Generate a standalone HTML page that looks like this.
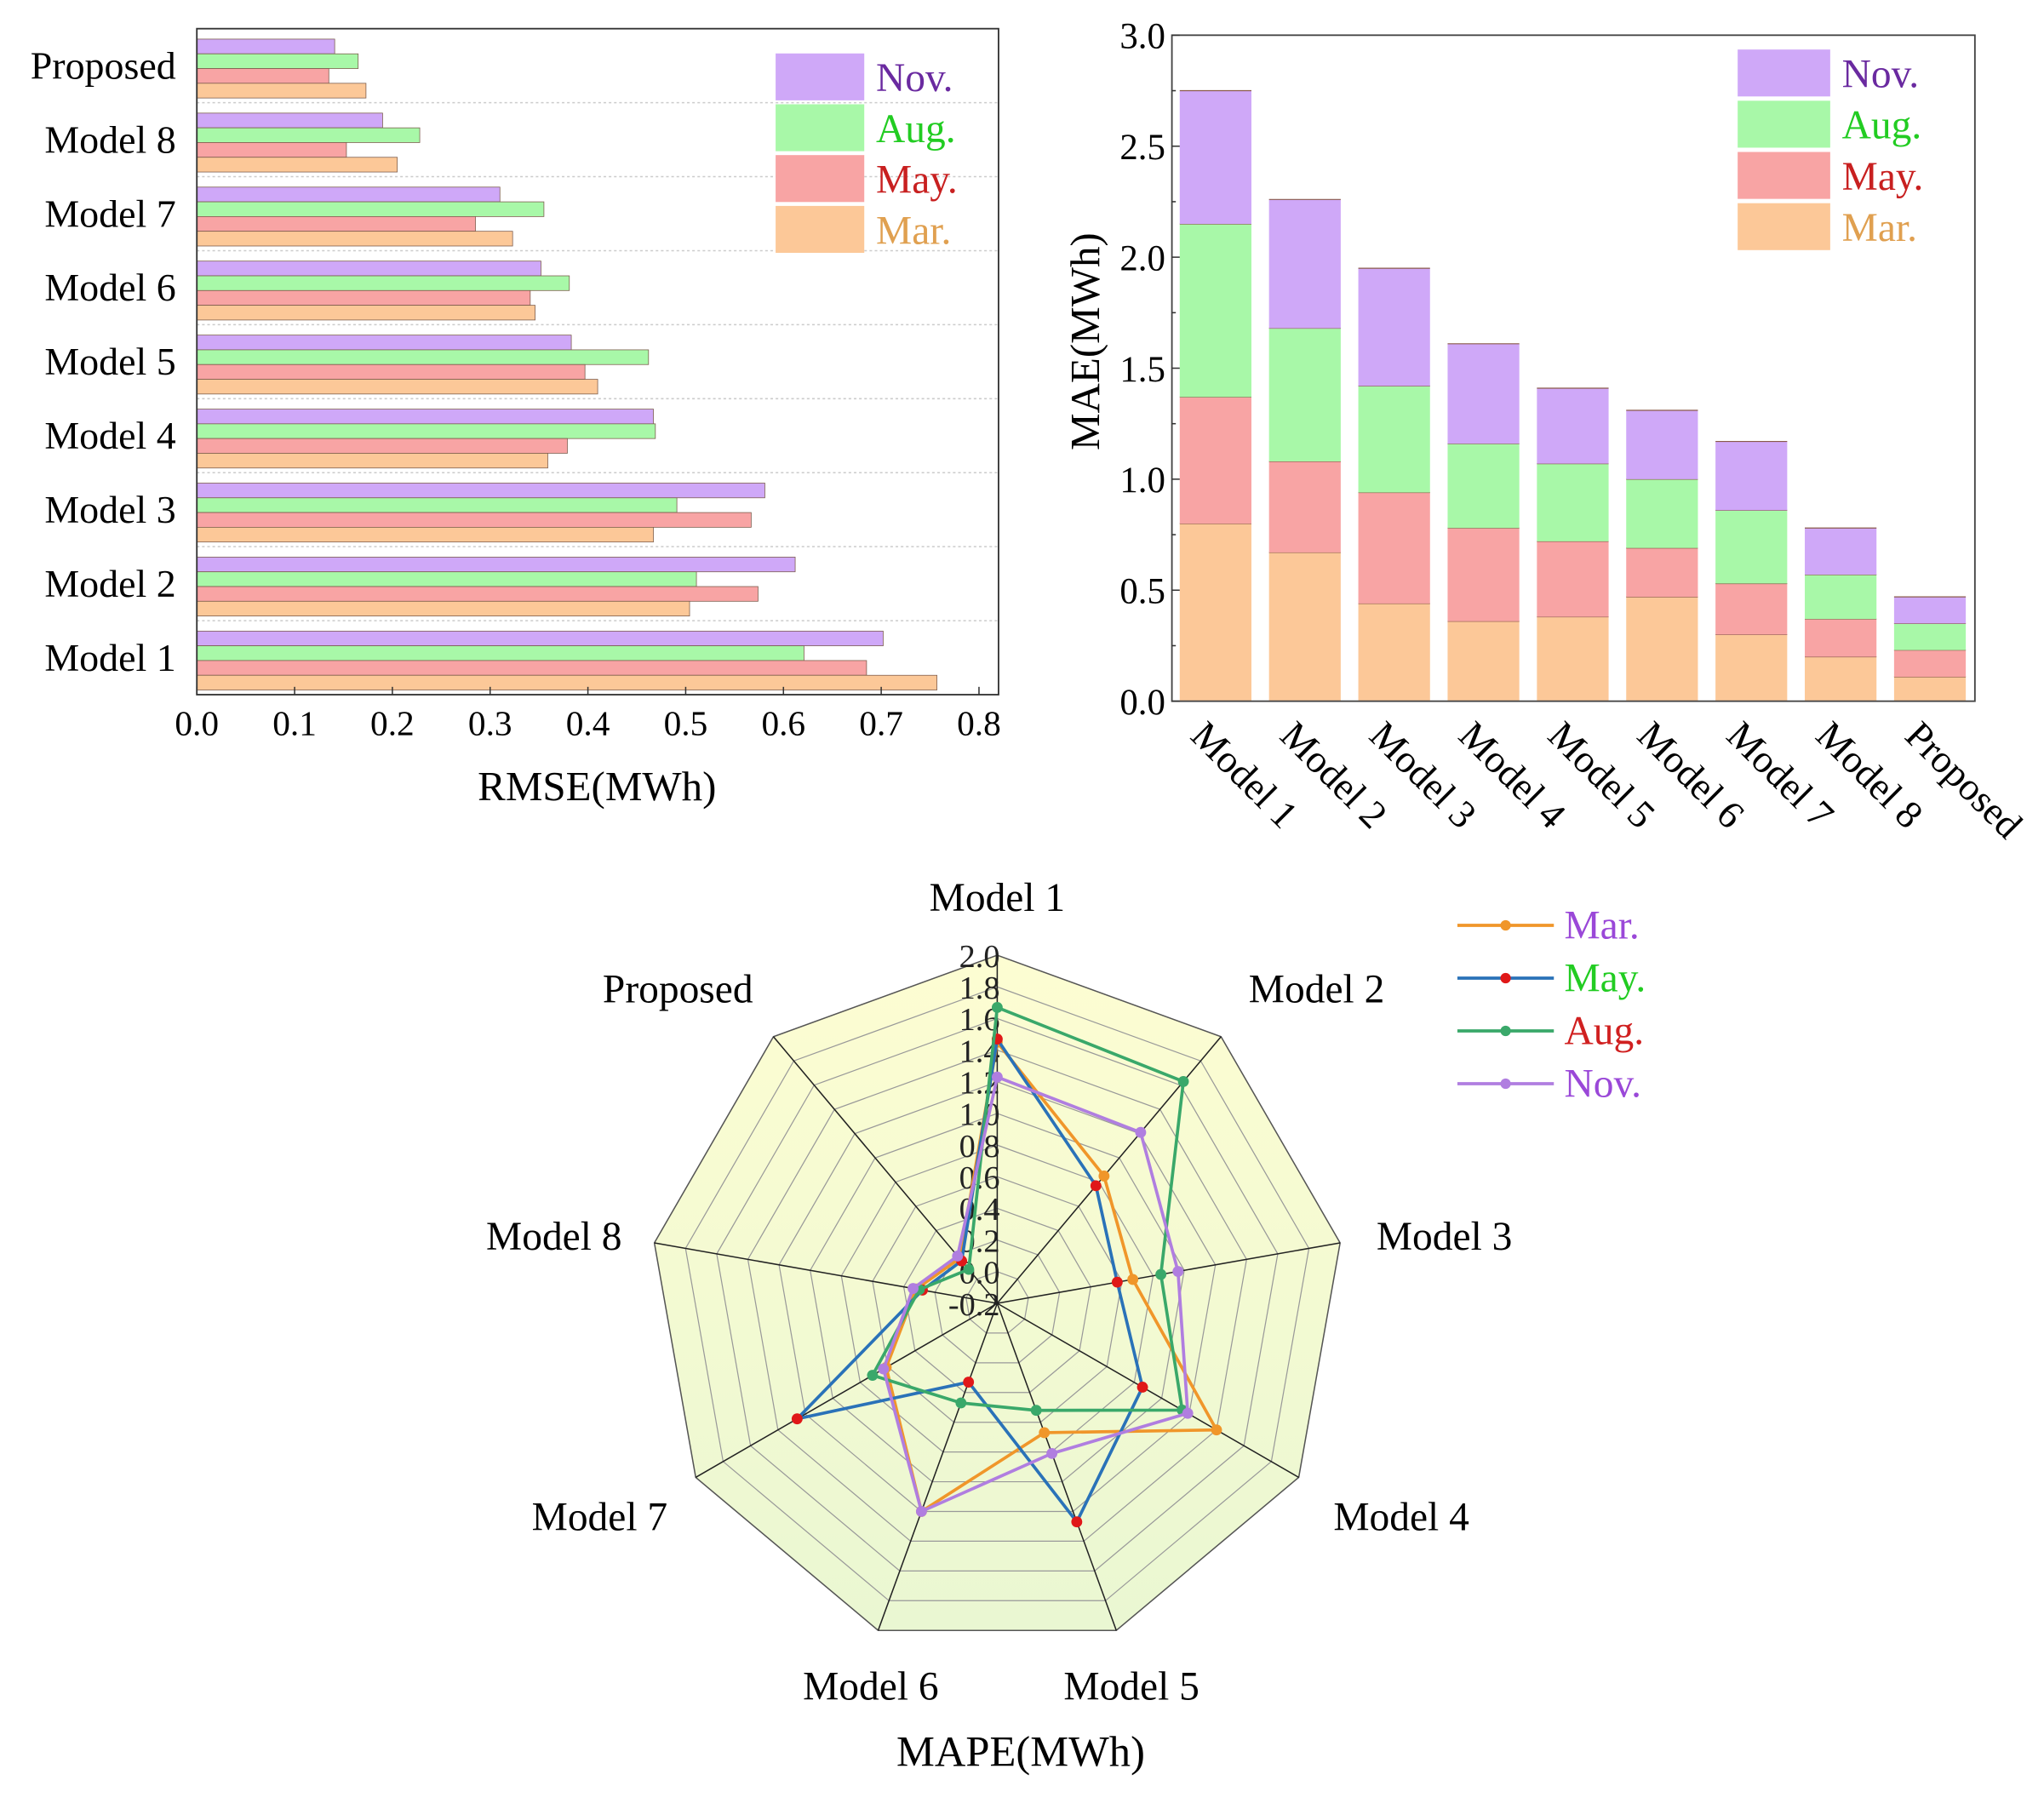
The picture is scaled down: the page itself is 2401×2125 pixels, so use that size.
<!DOCTYPE html>
<html><head><meta charset="utf-8"><style>html,body{margin:0;padding:0;background:#fff}svg{display:block}text{font-family:"Liberation Serif",serif}</style></head>
<body>
<svg id="fig" width="2401" height="2125" viewBox="0 0 1568 1388" preserveAspectRatio="none" xmlns="http://www.w3.org/2000/svg">
<rect width="1568" height="1388" fill="#fff"/>
<g id="rmse"></g>
<g id="mae"></g>
<g id="radar"></g>
</svg>
<script>
const NS='http://www.w3.org/2000/svg';
const rmseCats=['Proposed','Model 8','Model 7','Model 6','Model 5','Model 4','Model 3','Model 2','Model 1'];
const rmseNov=[0.141,0.19,0.31,0.352,0.383,0.467,0.581,0.612,0.702];
const rmseAug=[0.165,0.228,0.355,0.381,0.462,0.469,0.491,0.511,0.621];
const rmseMay=[0.135,0.153,0.285,0.341,0.397,0.379,0.567,0.574,0.685];
const rmseMar=[0.173,0.205,0.323,0.346,0.41,0.359,0.467,0.504,0.757];
const rmseTicks=['0.0','0.1','0.2','0.3','0.4','0.5','0.6','0.7','0.8'];
const maeCats=['Model 1','Model 2','Model 3','Model 4','Model 5','Model 6','Model 7','Model 8','Proposed'];
const maeMar=[0.80,0.67,0.44,0.36,0.38,0.47,0.30,0.20,0.11];
const maeMay=[0.57,0.41,0.50,0.42,0.34,0.22,0.23,0.17,0.12];
const maeAug=[0.78,0.60,0.48,0.38,0.35,0.31,0.33,0.20,0.12];
const maeNov=[0.60,0.58,0.53,0.45,0.34,0.31,0.31,0.21,0.12];
const maeTicks=['0.0','0.5','1.0','1.5','2.0','2.5','3.0'];
const radarCats=['Model 1','Model 2','Model 3','Model 4','Model 5','Model 6','Model 7','Model 8','Proposed'];
const mapeMar=[1.45,0.85,0.67,1.40,0.67,1.20,0.61,0.32,0.17];
const mapeMay=[1.47,0.77,0.57,0.86,1.27,0.33,1.26,0.28,0.15];
const mapeAug=[1.67,1.63,0.85,1.15,0.52,0.47,0.71,0.30,0.08];
const mapeNov=[1.23,1.21,0.96,1.19,0.81,1.20,0.63,0.34,0.19];
const radarTicks=['-0.2','0.0','0.2','0.4','0.6','0.8','1.0','1.2','1.4','1.6','1.8','2.0'];

function mk(p,tag,a,txt){const e=document.createElementNS(NS,tag);for(const k in a)e.setAttribute(k,a[k]);if(txt!=null)e.textContent=txt;p.appendChild(e);return e;}
const C={nov:'#cfa8f8',aug:'#a8f8a8',may:'#f8a4a4',mar:'#fcc898'};
const TC={nov:'#6a2aa0',aug:'#22cc22',may:'#c82020',mar:'#e0a050'};

// ---------- RMSE ----------
(function(){
const g=document.getElementById('rmse');
const L=151,R=766,T=22,B=533;
const x=v=>L+v*750;
const band=(B-T)/rmseCats.length;
rmseCats.forEach((c,i)=>{
  const y0=T+i*band;
  if(i>0){const ln=mk(g,'line',{x1:L,x2:R,y1:y0,y2:y0,stroke:'#ccc','stroke-dasharray':'2,2','stroke-width':1});}
  const series=[['nov',rmseNov],['aug',rmseAug],['may',rmseMay],['mar',rmseMar]];
  series.forEach((s,j)=>{
    const r=mk(g,'rect',{x:L,y:y0+8+j*11.3,width:x(s[1][i])-L,height:11.3,fill:C[s[0]],stroke:'#7a5a4a','stroke-width':0.5});
    
    
  });
  const t=mk(g,'text',{x:135,y:y0+band/2+10,'text-anchor':'end','font-size':30},c);
  
});
mk(g,'rect',{x:L,y:T,width:R-L,height:B-T,fill:'none',stroke:'#333','stroke-width':1.2,});
rmseTicks.forEach((t,i)=>{const v=i*0.1;mk(g,'line',{x1:x(v),x2:x(v),y1:B,y2:B-6,stroke:'#333'});
  const e=mk(g,'text',{x:x(v),y:564,'text-anchor':'middle','font-size':27},t);});
mk(g,'text',{x:458,y:614,'text-anchor':'middle','font-size':32,},'RMSE(MWh)');
[['nov','Nov.'],['aug','Aug.'],['may','May.'],['mar','Mar.']].forEach((s,j)=>{
  const y=41+j*39;
  mk(g,'rect',{x:595,y:y,width:68,height:36,fill:C[s[0]],});
  mk(g,'text',{x:672,y:y+29,'font-size':31,fill:TC[s[0]],},s[1]);
});
})();

// ---------- MAE ----------
(function(){
const g=document.getElementById('mae');
const L=899,R=1515,T=27,B=538;
const y=v=>B-v*(B-T)/3;
maeCats.forEach((c,i)=>{
  const x0=905+i*68.5;
  let acc=0;
  [['mar',maeMar],['may',maeMay],['aug',maeAug],['nov',maeNov]].forEach(s=>{
    const v=s[1][i];
    const r=mk(g,'rect',{x:x0,y:y(acc+v),width:55,height:y(acc)-y(acc+v),fill:C[s[0]]});
    
    
    mk(g,'line',{x1:x0,x2:x0+55,y1:y(acc+v),y2:y(acc+v),stroke:'#8a5a4a','stroke-width':0.8});
    acc+=v;
  });
  const cx=x0+27;
  const t=mk(g,'text',{x:cx-20,y:566,'font-size':30,transform:'rotate(45 '+(cx-20)+' 566)'},c);
  
});
mk(g,'rect',{x:L,y:T,width:R-L,height:B-T,fill:'none',stroke:'#444','stroke-width':1.2,});
maeTicks.forEach((t,i)=>{const v=i*0.5;mk(g,'line',{x1:L,x2:L+6,y1:y(v),y2:y(v),stroke:'#333'});
  if(i<6)mk(g,'line',{x1:L,x2:L+3,y1:y(v+0.25),y2:y(v+0.25),stroke:'#333'});
  const e=mk(g,'text',{x:894,y:y(v)+10,'text-anchor':'end','font-size':28},t);});
mk(g,'text',{x:843,y:262,'text-anchor':'middle','font-size':32,transform:'rotate(-90 843 262)',},'MAE(MWh)');
[['nov','Nov.'],['aug','Aug.'],['may','May.'],['mar','Mar.']].forEach((s,j)=>{
  const yy=38+j*39.3;
  mk(g,'rect',{x:1333,y:yy,width:71,height:36,fill:C[s[0]],});
  mk(g,'text',{x:1413,y:yy+29,'font-size':31,fill:TC[s[0]],},s[1]);
});
})();

// ---------- Radar ----------
(function(){
const g=document.getElementById('radar');
const cx=765,cy=1000,K=121.4,n=radarCats.length;
const pt=(v,i)=>{const a=i*2*Math.PI/n,r=(v+0.2)*K;return [cx+r*Math.sin(a),cy-r*Math.cos(a)];};
const defs=mk(g,'defs',{});
const gr=mk(defs,'linearGradient',{id:'rg',x1:0,y1:0,x2:0,y2:1});
mk(gr,'stop',{offset:'0','stop-color':'#fdfdd2'});mk(gr,'stop',{offset:'1','stop-color':'#eaf7d2'});
const ring=v=>radarCats.map((c,i)=>pt(v,i).join(',')).join(' ');
mk(g,'polygon',{points:ring(2.0),fill:'url(#rg)',stroke:'#555','stroke-width':1,});
for(let k=1;k<11;k++){mk(g,'polygon',{points:ring(-0.2+k*0.2),fill:'none',stroke:'#999','stroke-width':0.8});}
radarCats.forEach((c,i)=>{const p=pt(2.0,i);mk(g,'line',{x1:cx,y1:cy,x2:p[0],y2:p[1],stroke:'#222','stroke-width':1});});
radarTicks.forEach((t,k)=>{const e=mk(g,'text',{x:767,y:cy-k*0.2*K+9,'text-anchor':'end','font-size':25,fill:'#222'},t);});
const lblPos=[[765,699],[1010,769],[1108,959],[1075,1174],[868,1304],[668,1304],[460,1174],[425,959],[520,769]];
radarCats.forEach((c,i)=>{const e=mk(g,'text',{x:lblPos[i][0],y:lblPos[i][1],'text-anchor':'middle','font-size':31},c);});
const series=[['mar',mapeMar,'#f0962a','#f0962a'],['may',mapeMay,'#2a72b8','#e01818'],['aug',mapeAug,'#3aa86a','#3aa86a'],['nov',mapeNov,'#b07ee0','#b07ee0']];
series.forEach(s=>{
  const pts=s[1].map((v,i)=>pt(v,i));
  const pl=mk(g,'polygon',{points:pts.map(p=>p.join(',')).join(' '),fill:'none',stroke:s[2],'stroke-width':2.4});
  
  pts.forEach(p=>{const d=mk(g,'circle',{cx:p[0],cy:p[1],r:4.2,fill:s[3]});});
});
mk(g,'text',{x:783,y:1355,'text-anchor':'middle','font-size':33,},'MAPE(MWh)');
const leg=[['Mar.','#f0962a','#f0962a','#9a48d8'],['May.','#2a72b8','#e01818','#22cc22'],['Aug.','#3aa86a','#3aa86a','#d02020'],['Nov.','#b07ee0','#b07ee0','#9a48d8']];
leg.forEach((l,j)=>{const y=710+j*40.5;
  mk(g,'line',{x1:1118,x2:1192,y1:y,y2:y,stroke:l[1],'stroke-width':2.5,});
  mk(g,'circle',{cx:1155,cy:y,r:4,fill:l[2]});
  mk(g,'text',{x:1200,y:y+10,'font-size':31,fill:l[3],},l[0]);});
})();
</script>
</body></html>
